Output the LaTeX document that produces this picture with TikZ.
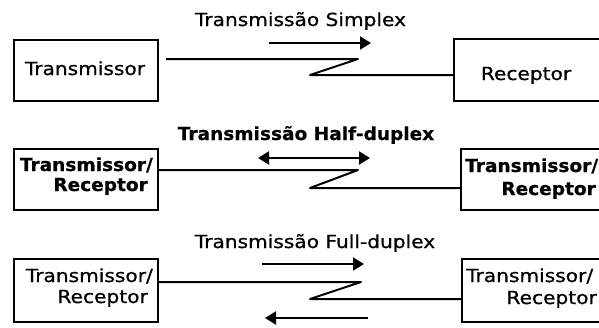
\documentclass[tikz,border=0pt]{standalone}
\usepackage{fontspec}
\setmainfont{DejaVu Sans}[FakeStretch=1.12,FakeBold=0.8]
\newfontfamily\bfam{DejaVu Sans Bold}[FakeStretch=1.03,FakeBold=0.6]
\usetikzlibrary{arrows.meta}
\tikzset{
  box/.style={draw, line width=2pt, inner sep=0pt, outer sep=0pt, rectangle},
  wire/.style={line width=2pt, line join=round},
  sig/.style={line width=2pt, -{Triangle[length=11pt,width=13pt]}},
  dsig/.style={line width=2pt, {Triangle[length=11pt,width=13pt]}-{Triangle[length=11pt,width=13pt]}},
  lbl/.style={inner sep=0pt, font=\fontsize{18}{20}\selectfont},
  lblb/.style={inner sep=0pt, font=\fontsize{18}{20}\selectfont\bfam},
}
\begin{document}
\begin{tikzpicture}[x=1pt,y=-1pt]
\useasboundingbox (0,0) rectangle (599,327);
\fill[white] (0,0) rectangle (599,327);

% boxes
\node[box, minimum width=144pt, minimum height=61pt] (L1) at (86,70.5) {};
\node[box, minimum width=158pt, minimum height=62pt] (R1) at (533,70) {};
\node[box, minimum width=144pt, minimum height=61pt] (L2) at (86,179.5) {};
\node[box, minimum width=151pt, minimum height=61pt] (R2) at (536.5,179.5) {};
\node[box, minimum width=144pt, minimum height=63pt] (L3) at (86,290.5) {};
\node[box, minimum width=150pt, minimum height=63pt] (R3) at (537,290) {};

% titles
\node[lbl, anchor=base] (T1) at (300.5,26) {Transmissão Simplex};
\node[lblb, anchor=base] (T2) at (306,140) {Transmissão Half-duplex};
\node[lbl, anchor=base] (T3) at (315,248) {Transmissão Full-duplex};

% box texts
\node[lbl, anchor=base] (t1l) at (85,75) {Transmissor};
\node[lbl, anchor=base] (t1r) at (526,80) {Receptor};
\node[lblb, anchor=base east] (t2la) at (153,171) {Transmissor/};
\node[lblb, anchor=base east] (t2lb) at (148,191) {Receptor};
\node[lblb, anchor=base west] (t2ra) at (465,172) {Transmissor/};
\node[lblb, anchor=base east] (t2rb) at (596,195) {Receptor};
\node[lbl, anchor=base east] (t3la) at (153,282) {Transmissor/};
\node[lbl, anchor=base east] (t3lb) at (148,303) {Receptor};
\node[lbl, anchor=base west] (t3ra) at (466,282) {Transmissor/};
\node[lbl, anchor=base east] (t3rb) at (597,304) {Receptor};

% wires
\coordinate (w1) at (166,59);
\coordinate (z1a) at (358,59);
\coordinate (z1b) at (310,75);
\draw[wire] (w1) -- (z1a) -- (z1b) -- (z1b -| R1.west);

\coordinate (z2a) at (358,170);
\coordinate (z2b) at (310,188);
\draw[wire] (L2.east |- z2a) -- (z2a) -- (z2b) -- (z2b -| R2.west);

\coordinate (z3a) at (361,282);
\coordinate (z3b) at (310,299);
\draw[wire] (L3.east |- z3a) -- (z3a) -- (z3b) -- (z3b -| R3.west);

% signal arrows
\coordinate (a1s) at (269,43);
\coordinate (a1e) at (371,43);
\draw[sig] (a1s) -- (a1e);

\coordinate (a2s) at (258,158);
\coordinate (a2e) at (370,158);
\draw[dsig] (a2s) -- (a2e);

\coordinate (a3s) at (262,264);
\coordinate (a3e) at (364,264);
\draw[sig] (a3s) -- (a3e);

\coordinate (a4s) at (368,318);
\coordinate (a4e) at (265,318);
\draw[sig] (a4s) -- (a4e);
\end{tikzpicture}
\end{document}
